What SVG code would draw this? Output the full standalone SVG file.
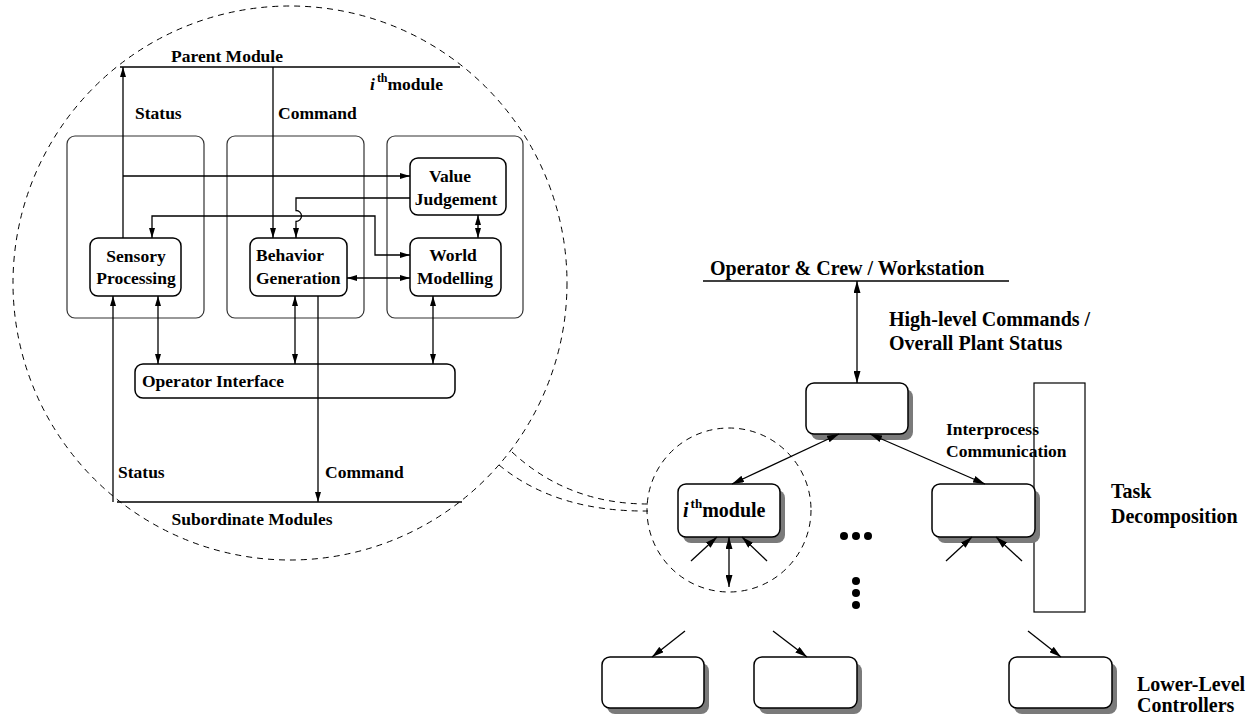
<svg xmlns="http://www.w3.org/2000/svg" width="1254" height="715" viewBox="0 0 1254 715">
  <defs>
    <style>
      .lbl { font-family: "Liberation Serif", "Times New Roman", serif; font-weight: bold; fill: #000; }
      .s18 { font-size: 17.5px; }
      .s20 { font-size: 20px; }
      .box { fill: #fff; stroke: #000; stroke-width: 1.5; }
      .col { fill: none; stroke: #333; stroke-width: 1.2; }
      .shadow { fill: #7a7a7a; stroke: none; }
      .ln { fill: none; stroke: #000; stroke-width: 1.3; }
      .bus { fill: none; stroke: #000; stroke-width: 1.6; }
      .dash { fill: none; stroke: #000; stroke-width: 1; stroke-dasharray: 6 5; }
      .a { marker-end: url(#ah); }
      .aa { marker-start: url(#ah); marker-end: url(#ah); }
      .b { marker-end: url(#bh); }
      .bb { marker-start: url(#bh); marker-end: url(#bh); }
    </style>
    <!-- small arrowhead for the module internals -->
    <marker id="ah" viewBox="0 0 10 6" refX="10" refY="3" markerWidth="10" markerHeight="6" markerUnits="userSpaceOnUse" orient="auto-start-reverse">
      <path d="M0,0 L10,3 L0,6 Z" fill="#000"/>
    </marker>
    <!-- arrowhead for the hierarchy on the right -->
    <marker id="bh" viewBox="0 0 12 7" refX="12" refY="3.5" markerWidth="12" markerHeight="7" markerUnits="userSpaceOnUse" orient="auto-start-reverse">
      <path d="M0,0 L12,3.5 L0,7 Z" fill="#000"/>
    </marker>
  </defs>

  <rect width="1254" height="715" fill="#fff"/>

  <!-- enlarged view of one module -->
  <g id="module-detail">
    <circle class="dash" cx="290" cy="283" r="277"/>
    <path class="dash" d="M512,452 Q568,504 648,504"/>
    <path class="dash" d="M499,465 Q556,512 648,511"/>

    <line class="bus" x1="120" y1="67" x2="460" y2="67"/>
    <line class="bus" x1="117" y1="502" x2="462" y2="502"/>

    <text class="lbl s18" x="227" y="62" text-anchor="middle">Parent Module</text>
    <text class="lbl s18" x="370" y="90"><tspan font-style="italic">i</tspan><tspan font-size="12" dy="-8" dx="2">th</tspan><tspan dy="8">module</tspan></text>
    <text class="lbl s18" x="135" y="119">Status</text>
    <text class="lbl s18" x="278" y="119">Command</text>
    <text class="lbl s18" x="118" y="478">Status</text>
    <text class="lbl s18" x="325" y="478">Command</text>
    <text class="lbl s18" x="252" y="525" text-anchor="middle">Subordinate Modules</text>

    <g id="col-sp"><rect class="col" x="67" y="136" width="137" height="182" rx="8"/></g>
    <g id="col-bg"><rect class="col" x="227" y="136" width="137" height="182" rx="8"/></g>
    <g id="col-wm"><rect class="col" x="387" y="136" width="136" height="182" rx="8"/></g>

    <g id="value-judgement">
      <rect class="box" x="410" y="158" width="96" height="57" rx="8"/>
      <text class="lbl s18" x="450" y="182" text-anchor="middle">Value</text>
      <text class="lbl s18" x="456" y="205" text-anchor="middle">Judgement</text>
    </g>
    <g id="world-modelling">
      <rect class="box" x="410" y="238" width="91" height="58" rx="8"/>
      <text class="lbl s18" x="453" y="261" text-anchor="middle">World</text>
      <text class="lbl s18" x="455" y="284" text-anchor="middle">Modelling</text>
    </g>
    <g id="sensory-processing">
      <rect class="box" x="90" y="238" width="91" height="58" rx="8"/>
      <text class="lbl s18" x="136" y="262" text-anchor="middle">Sensory</text>
      <text class="lbl s18" x="136" y="284" text-anchor="middle">Processing</text>
    </g>
    <g id="behavior-generation">
      <rect class="box" x="250" y="238" width="97" height="58" rx="8"/>
      <text class="lbl s18" x="256" y="261">Behavior</text>
      <text class="lbl s18" x="256" y="284">Generation</text>
    </g>
    <g id="operator-interface">
      <rect class="box" x="135" y="364" width="320" height="34" rx="8"/>
      <text class="lbl s18" x="142" y="387">Operator Interface</text>
    </g>

    <g id="module-connectors">
      <line class="ln a" x1="123" y1="238" x2="123" y2="67"/>
      <line class="ln a" x1="123" y1="176" x2="410" y2="176"/>
      <line class="ln a" x1="273" y1="67" x2="273" y2="238"/>
      <path class="ln a" d="M410,198 H296 V210.5 A5.5,5.5 0 0 1 296,221.5 V238"/>
      <path class="ln aa" d="M152,238 V216 H375 V255 H410"/>
      <line class="ln aa" x1="347" y1="278" x2="410" y2="278"/>
      <line class="ln aa" x1="478" y1="215" x2="478" y2="238"/>
      <line class="ln a" x1="113" y1="502" x2="113" y2="296"/>
      <line class="ln aa" x1="158" y1="296" x2="158" y2="364"/>
      <line class="ln aa" x1="295" y1="296" x2="295" y2="364"/>
      <line class="ln a" x1="318" y1="296" x2="318" y2="502"/>
      <line class="ln aa" x1="433" y1="296" x2="433" y2="364"/>
    </g>
  </g>

  <!-- control hierarchy -->
  <g id="operator-station">
    <line class="bus" x1="703" y1="281" x2="1009" y2="281"/>
    <text class="lbl s20" x="710" y="275">Operator &amp; Crew / Workstation</text>
  </g>
  <text class="lbl s20" x="889" y="326">High-level Commands /</text>
  <text class="lbl s20" x="889" y="350">Overall Plant Status</text>

  <g id="task-decomposition">
    <rect x="1034" y="383" width="51" height="229" fill="none" stroke="#000" stroke-width="1.2"/>
    <text class="lbl s20" x="1111" y="498">Task</text>
    <text class="lbl s20" x="1111" y="523">Decomposition</text>
  </g>
  <text class="lbl s18" x="946" y="435">Interprocess</text>
  <text class="lbl s18" x="946" y="457">Communication</text>

  <g id="top-controller">
    <rect class="shadow" x="811" y="389" width="102" height="51" rx="8"/>
    <rect class="box" x="806" y="383" width="102" height="51" rx="8"/>
  </g>

  <g id="ith-module">
    <circle class="dash" cx="729" cy="510" r="82"/>
    <rect class="shadow" x="683" y="490" width="102" height="53" rx="8"/>
    <rect class="box" x="678" y="484" width="102" height="53" rx="8"/>
    <text class="lbl s20" x="683" y="517"><tspan font-style="italic">i</tspan><tspan font-size="13" dy="-9" dx="2">th</tspan><tspan dy="9">module</tspan></text>
  </g>

  <g id="peer-module">
    <rect class="shadow" x="937" y="490" width="103" height="53" rx="8"/>
    <rect class="box" x="932" y="484" width="103" height="53" rx="8"/>
  </g>

  <g id="ellipsis">
    <circle cx="844" cy="536" r="4"/>
    <circle cx="856" cy="536" r="4"/>
    <circle cx="868" cy="536" r="4"/>
    <circle cx="856" cy="581" r="4"/>
    <circle cx="856" cy="593" r="4"/>
    <circle cx="856" cy="605" r="4"/>
  </g>

  <g id="lower-controller-1">
    <rect class="shadow" x="607" y="663" width="102" height="51" rx="8"/>
    <rect class="box" x="602" y="657" width="102" height="51" rx="8"/>
  </g>
  <g id="lower-controller-2">
    <rect class="shadow" x="759" y="663" width="103" height="51" rx="8"/>
    <rect class="box" x="754" y="657" width="103" height="51" rx="8"/>
  </g>
  <g id="lower-controller-3">
    <rect class="shadow" x="1014" y="663" width="103" height="51" rx="8"/>
    <rect class="box" x="1009" y="657" width="103" height="51" rx="8"/>
  </g>
  <text class="lbl s20" x="1137" y="691">Lower-Level</text>
  <text class="lbl s20" x="1137" y="712">Controllers</text>

  <g id="hierarchy-connectors">
    <line class="ln bb" x1="857" y1="281" x2="857" y2="383"/>
    <line class="ln bb" x1="839" y1="434" x2="732" y2="484"/>
    <line class="ln bb" x1="870" y1="434" x2="985" y2="484"/>
    <line class="ln b" x1="691" y1="561" x2="717" y2="537"/>
    <line class="ln b" x1="767" y1="561" x2="742" y2="537"/>
    <line class="ln bb" x1="729" y1="537" x2="729" y2="587"/>
    <line class="ln b" x1="946" y1="561" x2="972" y2="537"/>
    <line class="ln b" x1="1022" y1="561" x2="996" y2="537"/>
    <line class="ln b" x1="685" y1="631" x2="652" y2="657"/>
    <line class="ln b" x1="773" y1="631" x2="807" y2="657"/>
    <line class="ln b" x1="1028" y1="631" x2="1061" y2="657"/>
  </g>
</svg>
